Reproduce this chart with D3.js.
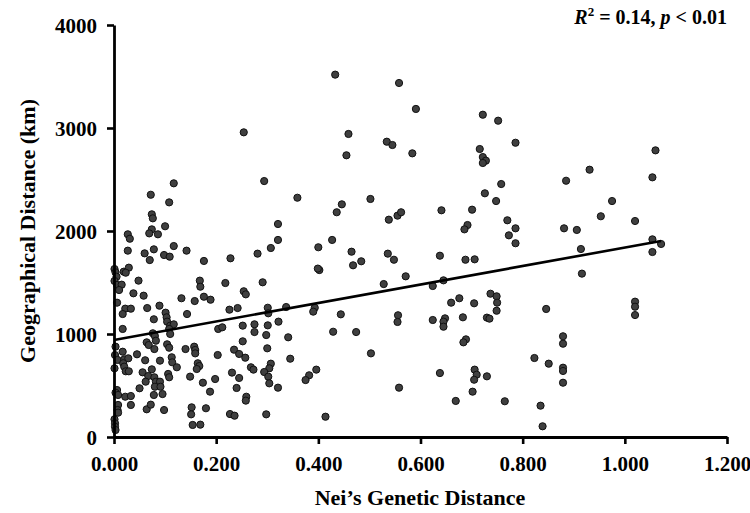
<!DOCTYPE html>
<html><head><meta charset="utf-8">
<script src="https://cdn.jsdelivr.net/npm/d3@7"></script>
<style>body{margin:0;background:#fff}svg{display:block}</style>
</head><body>
<script>
const geneticDistance = [
0.254,0.117,0.072,0.108,0.294,0.359,0.074,0.076,0.100,0.074,0.321,
0.433,0.558,0.591,0.722,0.752,0.459,0.534,0.545,0.786,0.455,0.584,0.716,0.722,0.728,0.722,0.758,0.726,0.748,0.446,0.502,0.436,0.538,0.555,0.562,0.641,0.701,0.770,0.692,0.686,0.786,
1.060,0.931,0.885,1.054,0.975,0.953,1.020,0.881,0.906,0.914,1.054,1.071,1.054,0.916,0.846,1.020,1.020,1.020,0.879,0.879,0.823,0.851,0.879,0.879,0.879,0.835,0.839,
0.773,0.786,0.400,0.427,0.465,0.484,0.468,0.402,0.399,0.536,0.548,0.638,0.688,0.706,0.571,0.528,0.624,0.645,0.737,0.749,0.750,0.749,0.676,0.660,0.705,0.393,0.390,0.444,0.556,0.555,0.624,0.648,0.645,0.645,0.683,0.730,0.735,0.429,0.474,0.689,0.684,0.503,0.396,0.382,0.375,0.638,0.706,0.710,0.705,0.730,0.558,0.702,0.669,0.765,0.414,
0.069,0.086,0.027,0.031,0.027,0.060,0.078,0.070,0.117,0.098,0.109,0.142,0.176,0.001,0.003,0.019,0.029,0.023,0.005,0.001,0.006,0.015,0.010,0.048,0.168,0.169,0.038,0.058,0.132,0.158,0.176,0.189,0.006,0.065,0.089,0.022,0.033,
0.017,0.078,0.101,0.103,0.104,0.110,0.117,0.143,0.017,0.076,0.080,0.082,0.108,0.110,0.064,0.068,0.079,0.104,0.108,0.140,0.157,0.159,0.159,0.203,0.003,0.002,0.017,0.007,0.020,0.028,0.045,0.061,0.090,0.113,0.018,0.020,0.001,0.023,0.029,0.114,0.123,0.164,0.167,0.162,0.074,0.056,0.067,0.106,0.108,0.062,0.079,0.082,0.090,0.080,0.091,0.095,0.078,0.050,0.149,0.174,0.198,0.188,0.006,0.003,0.008,0.022,0.033,0.033,0.008,0.007,0.008,0.064,0.072,0.098,0.152,0.151,0.180,0.001,0.002,0.002,0.003,0.154,0.169,
0.321,0.307,0.281,0.228,0.218,0.291,0.254,0.258,0.226,0.242,0.301,0.337,
0.302,0.204,0.212,0.252,0.275,0.275,0.301,0.322,0.298,0.341,0.252,0.300,0.235,0.245,0.257,0.345,0.307,0.304,0.268,0.273,0.294,0.302,0.304,0.231,0.245,0.240,0.321,0.259,0.258,0.227,0.236,0.298
];
const geographicalDistance = [
2958,2463,2352,2278,2485,2323,2162,2123,2046,2016,2068,
3518,3437,3185,3129,3071,2942,2867,2835,2857,2735,2754,2796,2718,2683,2660,2456,2366,2291,2259,2311,2182,2110,2149,2182,2201,2207,2104,2058,2016,2026,
2783,2595,2488,2521,2291,2143,2097,2026,2010,1825,1919,1874,1796,1586,1243,1314,1265,1184,978,906,767,712,673,641,527,304,104,
1958,1881,1842,1913,1799,1706,1667,1621,1635,1780,1721,1760,1721,1725,1560,1485,1466,1521,1391,1366,1304,1226,1347,1304,1298,1255,1217,1191,1182,1117,1136,1152,1120,1071,1162,1159,1149,1022,1019,948,919,812,654,599,553,621,654,605,556,589,479,440,350,347,197,
1977,1968,1968,1925,1809,1783,1822,1718,1854,1767,1751,1809,1709,1631,1599,1605,1644,1595,1556,1515,1476,1479,1427,1518,1518,1459,1395,1372,1347,1320,1362,1333,1304,1252,1275,1246,1246,
1194,1143,1207,1162,1120,1081,1094,1194,1049,1007,981,935,1049,1000,919,893,854,900,867,854,877,845,812,796,877,796,828,748,754,764,803,745,741,774,716,683,667,638,638,725,677,716,689,660,657,628,592,612,580,537,580,537,537,488,488,417,408,473,586,527,563,440,456,430,408,391,398,311,311,262,236,269,314,262,288,220,279,172,133,100,68,117,120,
1913,1835,1780,1735,1495,1502,1415,1385,1236,1252,1255,1262,
1201,1049,1065,1081,1094,1019,1084,1120,990,968,929,861,848,806,770,760,712,667,677,654,631,586,521,625,573,476,479,391,353,223,207,220
];
const xTicks = [0, 0.2, 0.4, 0.6, 0.8, 1.0, 1.2];
const yTicks = [0, 1000, 2000, 3000, 4000];
const fitX = [0, 1.071];
const fitY = [942, 1903];

const W = 750, H = 513;
const svg = d3.select("body").append("svg").attr("width", W).attr("height", H);
const x = d3.scaleLinear().domain([0, 1.2]).range([114, 727]);
const y = d3.scaleLinear().domain([0, 4000]).range([437, 25]);
const font = "'Liberation Serif','Times New Roman',serif";

// points
svg.append("g").selectAll("circle").data(geneticDistance.map((d,i)=>[d, geographicalDistance[i]]))
  .join("circle")
  .attr("cx", d => x(d[0])).attr("cy", d => y(d[1])).attr("r", 3.6)
  .attr("fill", "#3f3f3f").attr("stroke", "#111").attr("stroke-width", 1);

// fit line
svg.append("path")
  .attr("d", d3.line()(fitX.map((d,i)=>[x(d), y(fitY[i])])))
  .attr("stroke", "#000").attr("stroke-width", 2.6).attr("fill", "none");

// axes
const xAxis = svg.append("g").attr("transform", "translate(0,437)")
  .call(d3.axisBottom(x).tickValues(xTicks).tickSize(7).tickSizeOuter(0).tickFormat(d3.format(".3f")));
const yAxis = svg.append("g").attr("transform", "translate(114,0)")
  .call(d3.axisLeft(y).tickValues(yTicks).tickSize(7).tickSizeOuter(0).tickFormat(d3.format("d")));
[xAxis, yAxis].forEach(a => {
  a.select(".domain").attr("stroke", "#000").attr("stroke-width", 2.8);
  a.selectAll(".tick line").attr("stroke", "#000").attr("stroke-width", 2.6);
  a.selectAll("text").attr("font-family", font).attr("font-weight", "bold").attr("font-size", 21).attr("fill", "#000");
});
xAxis.selectAll("text").attr("dy", null).attr("y", 34);
yAxis.selectAll("text").attr("x", -17).attr("dy", "0.34em");

// titles
svg.append("text").attr("x", 420).attr("y", 505).attr("text-anchor", "middle")
  .attr("font-family", font).attr("font-weight", "bold").attr("font-size", 22).text("Nei’s Genetic Distance");
svg.append("text").attr("transform", "translate(35,231) rotate(-90)").attr("text-anchor", "middle")
  .attr("font-family", font).attr("font-weight", "bold").attr("font-size", 22).text("Geographical Distance (km)");

const ann = svg.append("text").attr("x", 727).attr("y", 24).attr("text-anchor", "end")
  .attr("font-family", font).attr("font-weight", "bold").attr("font-size", 20);
ann.append("tspan").attr("font-style", "italic").text("R");
ann.append("tspan").attr("font-size", 13).attr("dy", -8).text("2");
ann.append("tspan").attr("dy", 8).text(" = 0.14, ");
ann.append("tspan").attr("font-style", "italic").text("p");
ann.append("tspan").text(" < 0.01");
</script>
</body></html>
